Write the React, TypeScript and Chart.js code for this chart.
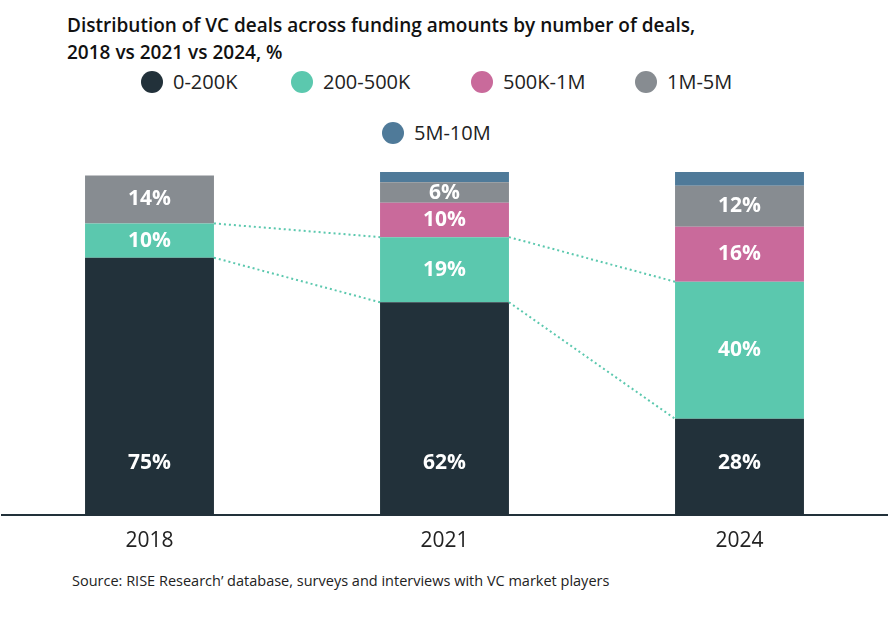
import React, { useEffect, useRef } from "react";
import { Chart, registerables } from "chart.js";
Chart.register(...registerables);

const years = ["2018", "2021", "2024"];
const seriesNames = ["0-200K", "200-500K", "500K-1M", "1M-5M", "5M-10M"];
const s0_200K = [75, 62, 28];
const s200_500K = [10, 19, 40];
const s500K_1M = [0, 10, 16];
const s1M_5M = [14, 6, 12];
const s5M_10M = [0, 3, 4];
const colors = ["#22313a", "#5bc8ae", "#c96a9b", "#878c91", "#4f7a99"];
const FONT = "'Open Sans', sans-serif";

const labelPlugin = {
  id: "labels",
  afterDatasetsDraw(chart: any) {
    const ctx = chart.ctx;
    ctx.save();
    ctx.font = `bold 21px ${FONT}`;
    ctx.fillStyle = "#fff";
    ctx.textAlign = "center";
    ctx.textBaseline = "middle";
    chart.data.datasets.forEach((ds: any, di: number) => {
      if (di === 4) return;
      const meta = chart.getDatasetMeta(di);
      meta.data.forEach((bar: any, i: number) => {
        const v = ds.data[i];
        if (v < 5) return;
        const y = di === 0 ? bar.base - 52 : (bar.y + bar.base) / 2;
        ctx.fillText(v + "%", bar.x, y);
      });
    });
    // dotted connectors
    ctx.strokeStyle = "#5bc8ae";
    ctx.lineWidth = 2;
    ctx.setLineDash([2, 3]);
    [0, 1].forEach((di) => {
      const meta = chart.getDatasetMeta(di);
      for (let i = 0; i < meta.data.length - 1; i++) {
        const a = meta.data[i], b = meta.data[i + 1];
        ctx.beginPath();
        ctx.moveTo(a.x + a.width / 2, a.y);
        ctx.lineTo(b.x - b.width / 2, b.y);
        ctx.stroke();
      }
    });
    ctx.restore();
  },
};

function ChartBox() {
  const ref = useRef<HTMLCanvasElement>(null);
  useEffect(() => {
    const all = [s0_200K, s200_500K, s500K_1M, s1M_5M, s5M_10M];
    const chart = new Chart(ref.current!, {
      type: "bar",
      data: {
        labels: years,
        datasets: all.map((d, i) => ({
          label: seriesNames[i],
          data: d,
          backgroundColor: colors[i],
          borderWidth: 0,
          barPercentage: 0.437,
          categoryPercentage: 1,
        })),
      },
      options: {
        animation: false,
        responsive: false,
        layout: { padding: { top: 12, left: 2, right: 5 } },
        plugins: { legend: { display: false }, tooltip: { enabled: false } },
        scales: {
          x: {
            stacked: true,
            grid: { display: false },
            border: { color: "#22313a", width: 2 },
            ticks: { color: "#222", font: { family: FONT, size: 21 }, padding: 6 },
          },
          y: { stacked: true, display: false, min: 0, max: 100 },
        },
      },
      plugins: [labelPlugin],
    });
    return () => chart.destroy();
  }, []);
  return <canvas ref={ref} width={892} height={400} />;
}

const legendPos = [
  [152, 82], [302, 82], [482, 82], [646, 82], [393, 133],
];

export default function App() {
  return (
    <div style={{ position: "absolute", left: 0, top: 0, width: 892, height: 618, background: "#fff", fontFamily: FONT }}>
      <div style={{ position: "absolute", left: 67, top: 12, fontSize: 19, fontWeight: 600, lineHeight: "27px", color: "#111" }}>
        Distribution of VC deals across funding amounts by number of deals,<br />2018 vs 2021 vs 2024, %
      </div>
      {seriesNames.map((n, i) => (
        <div key={n} style={{ position: "absolute", left: legendPos[i][0] - 11, top: legendPos[i][1] - 14, display: "flex", alignItems: "center", fontSize: 20, color: "#222" }}>
          <span style={{ width: 22, height: 22, borderRadius: 11, background: colors[i], display: "inline-block", marginRight: 10 }} />
          {n}
        </div>
      ))}
      <div style={{ position: "absolute", left: 0, top: 160 }}>
        <ChartBox />
      </div>
      <div style={{ position: "absolute", left: 72, top: 571, fontSize: 14.5, color: "#222" }}>
        Source: RISE Research’ database, surveys and interviews with VC market players
      </div>
    </div>
  );
}
